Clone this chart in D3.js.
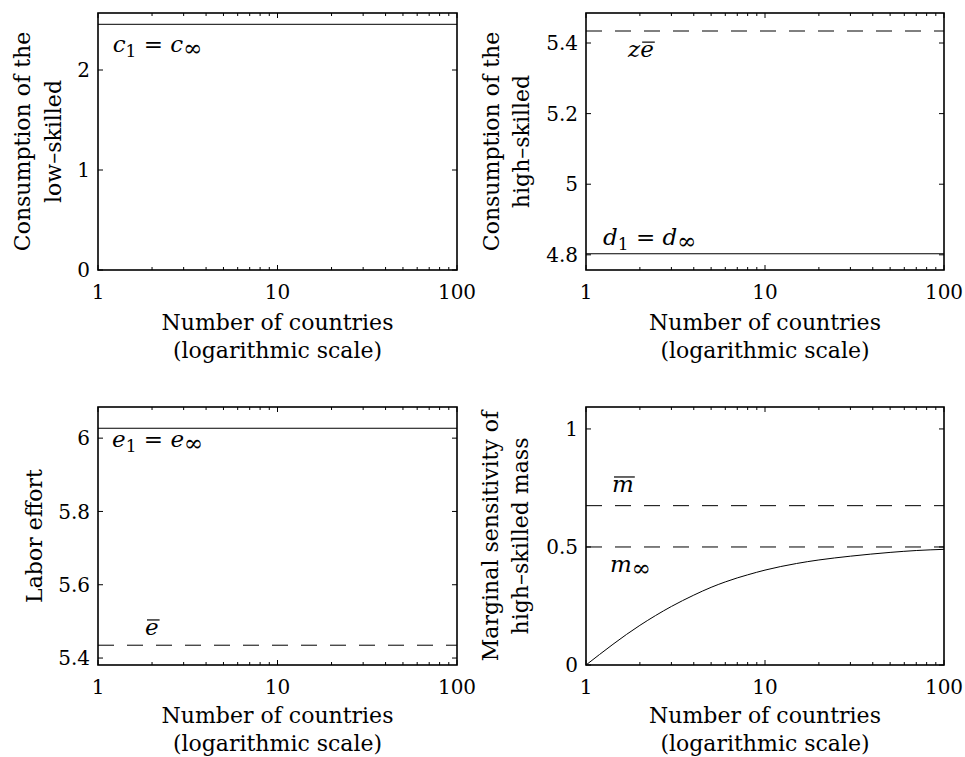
<!DOCTYPE html>
<html>
<head>
<meta charset="utf-8">
<script src="https://cdn.jsdelivr.net/npm/d3@7"></script>
<style>
  body { margin: 0; background: #fff; }
  text { font-family: "DejaVu Serif", serif; fill: #000; }
</style>
</head>
<body>
<svg id="fig" width="965" height="757"></svg>
<script>
// x axis shared by all panels (number of countries, log scale)
var xDomain = [1, 100];
var xTicks = [1, 10, 100];
var xMinor = [2, 3, 4, 5, 6, 7, 8, 9, 20, 30, 40, 50, 60, 70, 80, 90];

// panel 1: consumption of the low-skilled
var c1 = 2.457;
var yTicks1 = [0, 1, 2];

// panel 2: consumption of the high-skilled
var zeBar = 5.434;
var d1 = 4.803;
var yTicks2 = [4.8, 5, 5.2, 5.4];

// panel 3: labor effort
var e1 = 6.027;
var eBar = 5.435;
var yTicks3 = [5.4, 5.6, 5.8, 6];

// panel 4: marginal sensitivity of high-skilled mass
var mBar = 0.675;
var mInf = 0.5;
var nCountries = [1, 2, 3, 4, 5, 6, 7, 8, 10, 15, 20, 30, 50, 70, 100];
var mValues = [0, 0.168, 0.248, 0.296, 0.329, 0.352, 0.369, 0.382, 0.402, 0.430, 0.445, 0.461, 0.477, 0.485, 0.49];
var yTicks4 = [0, 0.5, 1];

var svg = d3.select("#fig");

var panels = [
  { box: [98, 13, 457, 270], yDomain: [0, 2.57], yTicks: yTicks1,
    ylabel: ["Consumption of the", "low\u2013skilled"], ylabelX: [30, 61],
    hlines: [{ v: c1, dash: null }],
    notes: [{ x: 1.208, y: 2.18, parts: [["c", 0], ["1", 1], [" = ", 0], ["c", 0], ["\u221E", 3]] }] },
  { box: [586, 13, 944, 270], yDomain: [4.757, 5.485], yTicks: yTicks2,
    ylabel: ["Consumption of the", "high\u2013skilled"], ylabelX: [499, 529],
    hlines: [{ v: zeBar, dash: "16,13" }, { v: d1, dash: null }],
    notes: [{ x: 1.717, y: 5.36, parts: [["z", 0], ["e", 2]] },
            { x: 1.245, y: 4.828, parts: [["d", 0], ["1", 1], [" = ", 0], ["d", 0], ["\u221E", 3]] }] },
  { box: [98, 407, 457, 665], yDomain: [5.381, 6.085], yTicks: yTicks3,
    ylabel: ["Labor effort"], ylabelX: [42],
    hlines: [{ v: e1, dash: null }, { v: eBar, dash: "16,13" }],
    notes: [{ x: 1.197, y: 5.976, parts: [["e", 0], ["1", 1], [" = ", 0], ["e", 0], ["\u221E", 3]] },
            { x: 1.827, y: 5.463, parts: [["e", 2]] }] },
  { box: [586, 407, 944, 665], yDomain: [0, 1.093], yTicks: yTicks4,
    ylabel: ["Marginal sensitivity of", "high\u2013skilled mass"], ylabelX: [498, 528],
    hlines: [{ v: mBar, dash: "16,13" }, { v: mInf, dash: "16,13" }],
    curve: true,
    notes: [{ x: 1.397, y: 0.733, parts: [["m", 2]] },
            { x: 1.362, y: 0.394, parts: [["m", 0], ["\u221E", 3]] }] }
];

panels.forEach(function(p, pi) {
  var x0 = p.box[0], y0 = p.box[1], x1 = p.box[2], y1 = p.box[3];
  var x = d3.scaleLog().domain(xDomain).range([x0, x1]);
  var y = d3.scaleLinear().domain(p.yDomain).range([y1, y0]);
  var g = svg.append("g");

  // reference lines
  p.hlines.forEach(function(h) {
    g.append("line")
      .attr("x1", x0).attr("x2", x1)
      .attr("y1", y(h.v)).attr("y2", y(h.v))
      .attr("stroke", "#000").attr("stroke-width", 1)
      .attr("stroke-dasharray", h.dash);
  });

  if (p.curve) {
    var line = d3.line()
      .x(function(d, i) { return x(nCountries[i]); })
      .y(function(d) { return y(d); })
      .curve(d3.curveMonotoneX);
    g.append("path").datum(mValues)
      .attr("d", line)
      .attr("fill", "none").attr("stroke", "#000").attr("stroke-width", 1);
  }

  // inward ticks on all four sides
  var ticks = g.append("g").attr("stroke", "#000").attr("stroke-width", 1);
  xTicks.concat(xMinor).forEach(function(t) {
    var len = xTicks.indexOf(t) >= 0 ? 5 : 3;
    ticks.append("line").attr("x1", x(t)).attr("x2", x(t)).attr("y1", y1).attr("y2", y1 - len);
    ticks.append("line").attr("x1", x(t)).attr("x2", x(t)).attr("y1", y0).attr("y2", y0 + len);
  });
  p.yTicks.forEach(function(t) {
    ticks.append("line").attr("x1", x0).attr("x2", x0 + 5).attr("y1", y(t)).attr("y2", y(t));
    ticks.append("line").attr("x1", x1).attr("x2", x1 - 5).attr("y1", y(t)).attr("y2", y(t));
  });

  // box
  g.append("rect")
    .attr("x", x0).attr("y", y0).attr("width", x1 - x0).attr("height", y1 - y0)
    .attr("fill", "none").attr("stroke", "#000").attr("stroke-width", 1.6);

  // tick labels
  g.selectAll(".xt").data(xTicks).enter().append("text")
    .attr("x", function(d) { return x(d); })
    .attr("y", y1 + 29)
    .attr("text-anchor", "middle")
    .style("font-size", "20px")
    .text(function(d) { return d; });
  g.selectAll(".yt").data(p.yTicks).enter().append("text")
    .attr("x", x0 - 8)
    .attr("y", function(d) { return y(d); })
    .attr("dy", "0.36em")
    .attr("text-anchor", "end")
    .style("font-size", "20px")
    .text(function(d) { return d; });

  // x label (bottom row sits a little closer to its axis)
  var cx = (x0 + x1) / 2;
  var off = pi < 2 ? 60 : 58;
  g.append("text").attr("x", cx).attr("y", y1 + off).attr("text-anchor", "middle")
    .style("font-size", "22px").text("Number of countries");
  g.append("text").attr("x", cx).attr("y", y1 + off + 28).attr("text-anchor", "middle")
    .style("font-size", "22px").text("(logarithmic scale)");

  // y label
  var cy = (y0 + y1) / 2;
  p.ylabel.forEach(function(s, i) {
    g.append("text")
      .attr("transform", "translate(" + p.ylabelX[i] + "," + cy + ") rotate(-90)")
      .attr("text-anchor", "middle")
      .style("font-size", "22px")
      .text(s);
  });

  // math annotations: 0 = italic, 1 = subscript, 2 = italic with bar, 3 = infinity subscript
  p.notes.forEach(function(n) {
    var t = g.append("text")
      .attr("x", x(n.x)).attr("y", y(n.y))
      .style("font-size", "23px");
    var k = 0, bars = [];
    n.parts.forEach(function(part) {
      var s = t.append("tspan").text(part[0]);
      if (part[1] === 0 || part[1] === 2) s.style("font-style", "italic");
      if (part[1] === 1) s.attr("baseline-shift", "-5").style("font-size", "17px");
      if (part[1] === 3) s.attr("baseline-shift", "-4").style("font-size", "23px");
      if (part[1] === 2) bars.push([k, k + part[0].length - 1]);
      k += part[0].length;
    });
    bars.forEach(function(b) {
      var node = t.node();
      var a = node.getStartPositionOfChar(b[0]).x;
      var e = node.getEndPositionOfChar(b[1]).x;
      g.append("line")
        .attr("x1", a + 2).attr("x2", e + 1)
        .attr("y1", y(n.y) - 15).attr("y2", y(n.y) - 15)
        .attr("stroke", "#000").attr("stroke-width", 1.2);
    });
  });
});
</script>
</body>
</html>
